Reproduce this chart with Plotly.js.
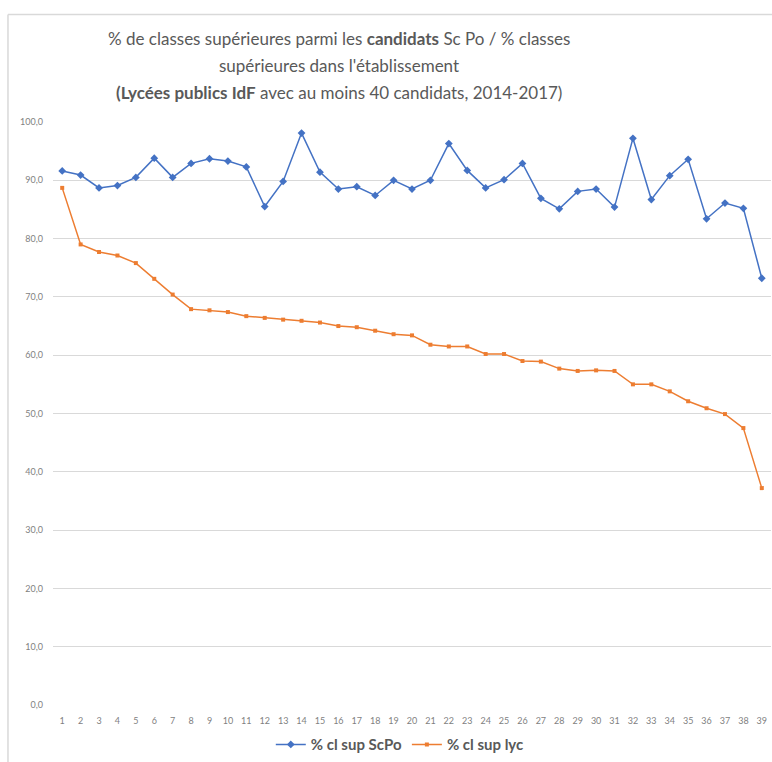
<!DOCTYPE html>
<html>
<head>
<meta charset="utf-8">
<script src="https://cdn.plot.ly/plotly-3.0.1.min.js"></script>
<style>html,body{margin:0;padding:0;background:#fff;}#chart{width:772px;height:762px;}</style>
</head>
<body>
<div id="chart"></div>
<script>
const categories = ["1","2","3","4","5","6","7","8","9","10","11","12","13","14","15","16","17","18","19","20","21","22","23","24","25","26","27","28","29","30","31","32","33","34","35","36","37","38","39"];
const scpo = [91.6,90.9,88.7,89.1,90.5,93.8,90.5,92.9,93.7,93.3,92.3,85.5,89.8,98.1,91.4,88.5,88.9,87.4,90.0,88.5,90.0,96.3,91.7,88.7,90.1,92.9,86.9,85.1,88.1,88.5,85.4,97.2,86.7,90.8,93.6,83.4,86.1,85.2,73.2];
const lyc = [88.7,79.0,77.7,77.1,75.8,73.1,70.4,67.9,67.7,67.4,66.7,66.4,66.1,65.9,65.6,65.0,64.8,64.2,63.6,63.4,61.8,61.5,61.5,60.2,60.2,59.0,58.9,57.7,57.3,57.4,57.3,55.0,55.0,53.8,52.1,50.9,49.9,47.5,37.2];
const yTickVals = [0,10,20,30,40,50,60,70,80,90,100];
const yTickText = ["0,0","10,0","20,0","30,0","40,0","50,0","60,0","70,0","80,0","90,0","100,0"];
const seriesNames = ["% cl sup ScPo","% cl sup lyc"];
const titleLines = [
  "% de classes supérieures parmi les <b>candidats</b> Sc Po / % classes",
  "supérieures dans l'établissement",
  "<b>(Lycées publics IdF</b> avec au moins 40 candidats, 2014-2017)"
];

const FONT = "Lato, 'Open Sans', sans-serif";
const traces = [
  {x: categories, y: scpo, name: seriesNames[0], type: "scatter", mode: "lines+markers",
   line: {color: "#4472C4", width: 1.5}, marker: {symbol: "diamond", size: 6, color: "#4472C4"}},
  {x: categories, y: lyc, name: seriesNames[1], type: "scatter", mode: "lines+markers",
   line: {color: "#ED7D31", width: 1.5}, marker: {symbol: "square", size: 4, color: "#ED7D31"}}
];

const titleY = [1.1436, 1.0974, 1.0513];
const annotations = titleLines.map((t, i) => ({
  text: t, xref: "paper", yref: "paper", x: 0.398, y: titleY[i],
  xanchor: "center", yanchor: "middle", showarrow: false,
  font: {family: FONT, size: 17, color: "#595959"}
}));

const layout = {
  width: 772, height: 762,
  margin: {l: 53, r: 1, t: 122, b: 55},
  paper_bgcolor: "#fff", plot_bgcolor: "#fff",
  showlegend: true,
  legend: {orientation: "h", x: 0.483, xanchor: "center", y: -0.068, yanchor: "middle",
           font: {family: FONT, size: 15, color: "#595959", weight: "bold"}},
  xaxis: {type: "category", range: [-0.5, 38.5], showgrid: false, zeroline: false, showline: false, ticks: "",
          ticklabelstandoff: 9,
          tickfont: {family: FONT, size: 9, color: "#7f7f7f"}, fixedrange: true},
  yaxis: {range: [0, 100], tickvals: yTickVals, ticktext: yTickText, showgrid: true,
          gridcolor: "#d9d9d9", gridwidth: 1, zeroline: false, showline: false, ticks: "",
          ticklabelstandoff: 9,
          tickfont: {family: FONT, size: 9, color: "#7f7f7f"}},
  annotations: annotations,
  shapes: [
    {type: "line", xref: "paper", yref: "paper", x0: -0.0627, x1: -0.0627, y0: -0.1, y1: 1.1846,
     line: {color: "#d9d9d9", width: 1.5}},
    {type: "line", xref: "paper", yref: "paper", x0: -0.0627, x1: 1.01, y0: 1.1846, y1: 1.1846,
     line: {color: "#d9d9d9", width: 1.5}}
  ]
};

Plotly.newPlot("chart", traces, layout, {displayModeBar: false, staticPlot: true});
</script>
</body>
</html>
